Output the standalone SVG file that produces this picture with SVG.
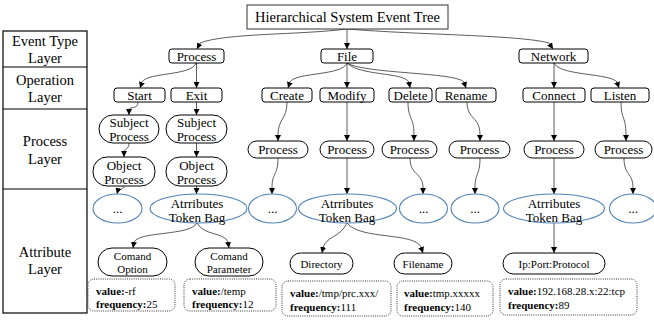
<svg xmlns="http://www.w3.org/2000/svg" width="654" height="320" viewBox="0 0 654 320">
  <style>
    text { font-family: "Liberation Serif", "Times New Roman", serif; fill: #000; }
    .lbl { font-size: 14.5px; text-anchor: middle; }
    .n13 { font-size: 13px; text-anchor: middle; }
    .n11 { font-size: 11px; text-anchor: middle; }
    .val { font-size: 11px; }
    .val tspan.k { font-weight: bold; }
    .box { fill: #fff; stroke: #000; stroke-width: 1; }
    .bag { fill: #fff; stroke: #4f82b8; stroke-width: 1.1; }
    .dot { fill: #fff; stroke: #333; stroke-width: 1; stroke-dasharray: 1 1.2; }
    .edge { fill: none; stroke: #333; stroke-width: 0.8; marker-end: url(#arr); }
    .grid { fill: none; stroke: #000; stroke-width: 1.2; }
  </style>
  <defs>
    <marker id="arr" markerUnits="userSpaceOnUse" markerWidth="7" markerHeight="6" refX="6" refY="3" orient="auto">
      <path d="M0,0 L6,3 L0,6 Z" fill="#000"/>
    </marker>
  </defs>
  <rect width="654" height="320" fill="#fff"/>

  <!-- layer legend column -->
  <g id="layers">
    <rect class="grid" x="3" y="31" width="84" height="282"/>
    <line class="grid" x1="3" y1="67" x2="87" y2="67"/>
    <line class="grid" x1="3" y1="109" x2="87" y2="109"/>
    <line class="grid" x1="3" y1="189" x2="87" y2="189"/>
    <text class="lbl" x="45" y="46">Event Type</text>
    <text class="lbl" x="45" y="63">Layer</text>
    <text class="lbl" x="45" y="85">Operation</text>
    <text class="lbl" x="45" y="102">Layer</text>
    <text class="lbl" x="45" y="146">Process</text>
    <text class="lbl" x="45" y="164">Layer</text>
    <text class="lbl" x="45" y="257">Attribute</text>
    <text class="lbl" x="45" y="274">Layer</text>
  </g>

  <!-- connectors -->
  <g id="connectors">
    <path class="edge" d="M347,29 C300,35 225,33 200,43 L197,49"/>
    <path class="edge" d="M347,29 L347,49"/>
    <path class="edge" d="M347,29 C420,35 520,35 549,43 L553,49"/>

    <path class="edge" d="M196,63 C192,76 148,72 142,82 L140,88"/>
    <path class="edge" d="M196.5,63 L196.5,88"/>
    <path class="edge" d="M347,63 C342,76 296,72 290,82 L288,88"/>
    <path class="edge" d="M347,63 L347,88"/>
    <path class="edge" d="M347,63 C360,76 403,72 409,82 L410,88"/>
    <path class="edge" d="M347,63 C365,74 455,72 464,82 L466,88"/>
    <path class="edge" d="M554,63 L554,88"/>
    <path class="edge" d="M554,63 C560,76 610,73 617,82 L619,88"/>

    <path class="edge" d="M138,102 C138,110 129,106 129,110 L129,115"/>
    <path class="edge" d="M196.5,102 L196.5,115"/>
    <path class="edge" d="M129,143 C129,150 124,148 124,152 L124,157"/>
    <path class="edge" d="M196.5,143 L196.5,157"/>
    <path class="edge" d="M124,186 C124,190 119,189 118,190 L117,194"/>
    <path class="edge" d="M196.5,186 L196.5,194"/>

    <path class="edge" d="M287,102 C287,120 278,118 278,135 L278,141"/>
    <path class="edge" d="M347,102 L347,141"/>
    <path class="edge" d="M408,102 C408,120 414,116 414,135 L414,141"/>
    <path class="edge" d="M467,102 C467,120 480,116 480,135 L480,141"/>
    <path class="edge" d="M554,102 L554,141"/>
    <path class="edge" d="M621,102 C621,120 626,116 626,135 L626,141"/>

    <path class="edge" d="M278,158 C278,176 272,172 272,188 L272,194"/>
    <path class="edge" d="M347,158 L347,194"/>
    <path class="edge" d="M410,158 C410,176 423,172 423,188 L423,194"/>
    <path class="edge" d="M480,158 C480,176 475,172 475,188 L475,194"/>
    <path class="edge" d="M554,158 L554,194"/>
    <path class="edge" d="M624,158 C624,176 633,172 633,188 L633,194"/>

    <path class="edge" d="M197,223 C190,236 140,231 134,242 L133,248"/>
    <path class="edge" d="M197,223 C204,236 224,232 228,242 L229,248"/>
    <path class="edge" d="M347,223 C340,238 326,236 323,248 L322,253"/>
    <path class="edge" d="M347,223 C360,240 414,232 421,247 L423,253"/>
    <path class="edge" d="M554,223 L554,253"/>
  </g>

  <!-- root -->
  <g id="root">
    <rect x="247" y="5" width="201" height="24" fill="#fff" stroke="#333" stroke-width="1"/>
    <text x="347.5" y="22" style="font-size:14.5px;text-anchor:middle">Hierarchical System Event Tree</text>
  </g>

  <!-- event type layer -->
  <g id="et-process"><rect class="box" x="169" y="49" width="55" height="14" rx="3"/><text class="n13" x="196.5" y="60.5">Process</text></g>
  <g id="et-file"><rect class="box" x="321" y="49" width="52" height="14" rx="3"/><text class="n13" x="347" y="60.5">File</text></g>
  <g id="et-network"><rect class="box" x="519" y="49" width="69" height="14" rx="3"/><text class="n13" x="553.5" y="60.5">Network</text></g>

  <!-- operation layer -->
  <g id="op-start"><rect class="box" x="114" y="88" width="51" height="14" rx="3"/><text class="n13" x="139.5" y="99.5">Start</text></g>
  <g id="op-exit"><rect class="box" x="171" y="88" width="51" height="14" rx="3"/><text class="n13" x="196.5" y="99.5">Exit</text></g>
  <g id="op-create"><rect class="box" x="262" y="88" width="50" height="14" rx="3"/><text class="n13" x="287" y="99.5">Create</text></g>
  <g id="op-modify"><rect class="box" x="320" y="88" width="54" height="14" rx="3"/><text class="n13" x="347" y="99.5">Modify</text></g>
  <g id="op-delete"><rect class="box" x="389" y="88" width="43" height="14" rx="3"/><text class="n13" x="410.5" y="99.5">Delete</text></g>
  <g id="op-rename"><rect class="box" x="436" y="88" width="60" height="14" rx="3"/><text class="n13" x="466" y="99.5">Rename</text></g>
  <g id="op-connect"><rect class="box" x="523" y="88" width="62" height="14" rx="3"/><text class="n13" x="554" y="99.5">Connect</text></g>
  <g id="op-listen"><rect class="box" x="591" y="88" width="58" height="14" rx="3"/><text class="n13" x="620" y="99.5">Listen</text></g>

  <!-- process layer -->
  <g id="pr-subject-1"><rect class="box" x="99" y="115" width="60" height="28" rx="14"/><text class="n13" x="129" y="126.5">Subject</text><text class="n13" x="129" y="141">Process</text></g>
  <g id="pr-subject-2"><rect class="box" x="166" y="115" width="61" height="28" rx="14"/><text class="n13" x="196.5" y="126.5">Subject</text><text class="n13" x="196.5" y="141">Process</text></g>
  <g id="pr-object-1"><rect class="box" x="93" y="157" width="62" height="29" rx="14"/><text class="n13" x="124" y="169.5">Object</text><text class="n13" x="124" y="184">Process</text></g>
  <g id="pr-object-2"><rect class="box" x="166" y="157" width="61" height="29" rx="14"/><text class="n13" x="196.5" y="169.5">Object</text><text class="n13" x="196.5" y="184">Process</text></g>
  <g id="pr-create"><rect class="box" x="248" y="141" width="60" height="17" rx="8.5"/><text class="n13" x="278" y="154">Process</text></g>
  <g id="pr-modify"><rect class="box" x="320" y="141" width="54" height="17" rx="8.5"/><text class="n13" x="347" y="154">Process</text></g>
  <g id="pr-delete"><rect class="box" x="382" y="141" width="55" height="17" rx="8.5"/><text class="n13" x="409.5" y="154">Process</text></g>
  <g id="pr-rename"><rect class="box" x="449" y="141" width="61" height="17" rx="8.5"/><text class="n13" x="479.5" y="154">Process</text></g>
  <g id="pr-connect"><rect class="box" x="524" y="141" width="60" height="17" rx="8.5"/><text class="n13" x="554" y="154">Process</text></g>
  <g id="pr-listen"><rect class="box" x="595" y="141" width="57" height="17" rx="8.5"/><text class="n13" x="623.5" y="154">Process</text></g>

  <!-- attribute bags -->
  <g id="bag-start"><ellipse class="bag" cx="117.5" cy="208.5" rx="24.5" ry="14.5"/><text class="n13" x="117.5" y="213">...</text></g>
  <g id="bag-exit"><ellipse class="bag" cx="198.5" cy="208.5" rx="48.5" ry="14.5"/><text class="n13" x="197" y="207.5">Atrributes</text><text class="n13" x="197" y="221.5">Token Bag</text></g>
  <g id="bag-create"><ellipse class="bag" cx="272.5" cy="208.5" rx="24" ry="14.5"/><text class="n13" x="272.5" y="213">...</text></g>
  <g id="bag-modify"><ellipse class="bag" cx="347.5" cy="208.5" rx="49" ry="14.5"/><text class="n13" x="347" y="207.5">Atrributes</text><text class="n13" x="347" y="221.5">Token Bag</text></g>
  <g id="bag-delete"><ellipse class="bag" cx="423.5" cy="208.5" rx="24" ry="14.5"/><text class="n13" x="423.5" y="213">...</text></g>
  <g id="bag-rename"><ellipse class="bag" cx="475" cy="208.5" rx="24" ry="14.5"/><text class="n13" x="475" y="213">...</text></g>
  <g id="bag-connect"><ellipse class="bag" cx="554" cy="208.5" rx="50.5" ry="14.5"/><text class="n13" x="554" y="207.5">Atrributes</text><text class="n13" x="554" y="221.5">Token Bag</text></g>
  <g id="bag-listen"><ellipse class="bag" cx="633" cy="208.5" rx="23.5" ry="14.5"/><text class="n13" x="633" y="213">...</text></g>

  <!-- attribute tokens -->
  <g id="at-option"><rect class="box" x="98" y="248" width="69" height="28" rx="14"/><text class="n11" x="132.5" y="260">Comand</text><text class="n11" x="132.5" y="273">Option</text></g>
  <g id="at-parameter"><rect class="box" x="195" y="248" width="68" height="28" rx="14"/><text class="n11" x="229" y="260">Comand</text><text class="n11" x="229" y="273">Parameter</text></g>
  <g id="at-directory"><rect class="box" x="290" y="253" width="63" height="21" rx="10.5"/><text class="n11" x="321.5" y="267.5">Directory</text></g>
  <g id="at-filename"><rect class="box" x="394" y="253" width="58" height="21" rx="10.5"/><text class="n11" x="423" y="267.5">Filename</text></g>
  <g id="at-ipport"><rect class="box" x="503" y="253" width="102" height="21" rx="10.5"/><text class="n11" x="554" y="267.5">Ip:Port:Protocol</text></g>

  <!-- value / frequency records -->
  <g id="rec-option"><rect class="dot" x="88" y="279" width="87" height="32" rx="6"/><text class="val" x="96" y="295"><tspan class="k">value:</tspan>-rf</text><text class="val" x="96" y="308"><tspan class="k">frequency:</tspan>25</text></g>
  <g id="rec-parameter"><rect class="dot" x="184" y="279" width="92" height="32" rx="6"/><text class="val" x="192" y="295"><tspan class="k">value:</tspan>/temp</text><text class="val" x="192" y="308"><tspan class="k">frequency:</tspan>12</text></g>
  <g id="rec-directory"><rect class="dot" x="282" y="281" width="109" height="35" rx="6"/><text class="val" x="290" y="297"><tspan class="k">value:</tspan>/tmp/prc.xxx/</text><text class="val" x="290" y="311"><tspan class="k">frequency:</tspan>111</text></g>
  <g id="rec-filename"><rect class="dot" x="397" y="281" width="96" height="35" rx="6"/><text class="val" x="404" y="297"><tspan class="k">value:</tspan>tmp.xxxxx</text><text class="val" x="404" y="311"><tspan class="k">frequency:</tspan>140</text></g>
  <g id="rec-ipport"><rect class="dot" x="500" y="279" width="137" height="36" rx="6"/><text class="val" x="508" y="295"><tspan class="k">value:</tspan>192.168.28.x:22:tcp</text><text class="val" x="508" y="309"><tspan class="k">frequency:</tspan>89</text></g>
</svg>
